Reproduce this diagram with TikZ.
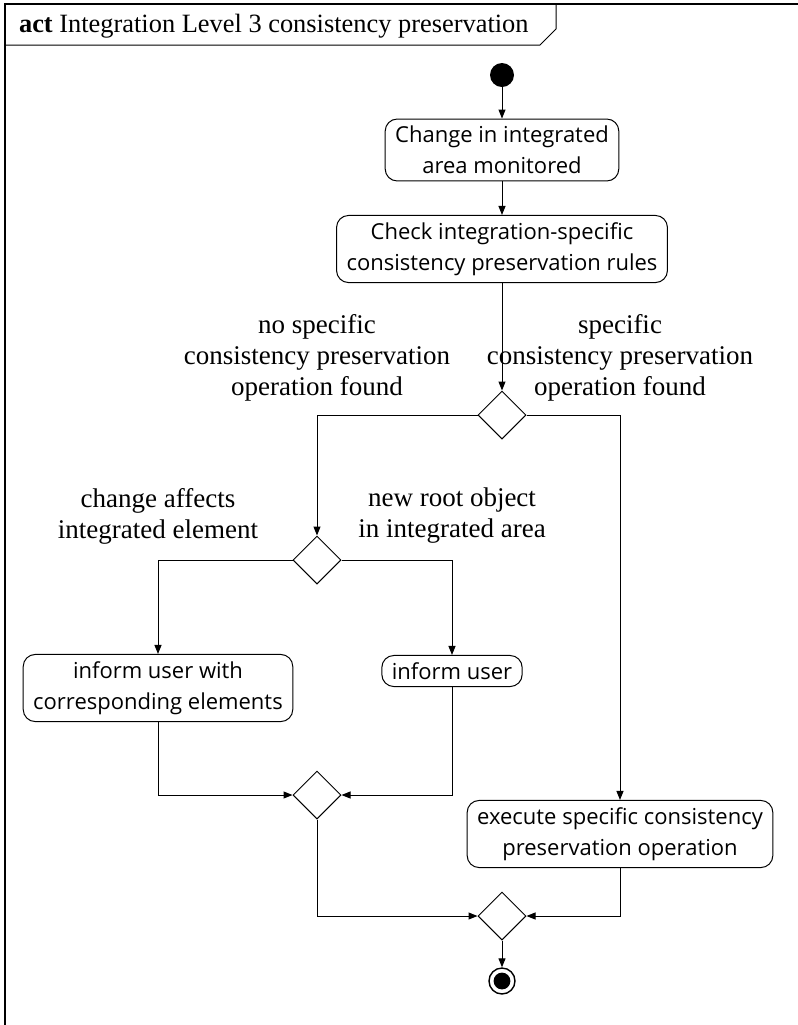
\documentclass[tikz,border=0pt]{standalone}
\usepackage{fontspec}
\setmainfont{Liberation Serif}
\newfontfamily\actionfont{Open Sans}
\usetikzlibrary{arrows.meta}
\usetikzlibrary{shapes.geometric}

\begin{document}
\begin{tikzpicture}[
		x=0.5pt, y=-0.5pt,
		flow/.style={-{Triangle[length=4.5pt, width=3.5pt]}, line width=0.5pt},
		action/.style={draw, line width=0.5pt, rounded corners=6pt, align=center, inner xsep=5pt, inner ysep=3.5pt,
			font=\actionfont\fontsize{11}{15.5}\selectfont},
		decision/.style={draw, line width=0.5pt, diamond, aspect=1, minimum size=24pt, inner sep=0pt},
		guard/.style={align=center, font=\fontsize{13.5}{15.5}\selectfont},
		startdot/.style={circle, fill, minimum size=12pt, inner sep=0pt},
		enddot/.style={circle, draw, line width=0.7pt, minimum size=13pt, inner sep=0pt,
			path picture={\fill (path picture bounding box.center) circle (4.2pt);}},
	]
		\useasboundingbox (0,0) rectangle (798,1025);

		% frame with its name tab
		\draw[line width=0.8pt] (5,1025) -- (5,4) -- (798,4);
		\draw[line width=0.5pt] (5,45) -- (540,45) -- (556,29) -- (556,4);
		\node[anchor=base west, font=\fontsize{13.2}{15.5}\selectfont] (title) at (12,32) {\textbf{act} Integration Level 3 consistency preservation};

		\node[startdot] (start) at (502,75) {};
		\node[action] (monitor) at (502,150) {Change in integrated\\area monitored};
		\node[action] (rules) at (502,249) {Check integration-specific\\consistency preservation rules};
		\node[decision] (found) at (502,415) {};
		\node[decision] (affects) at (317,560) {};
		\node[action] (informall) at (158,688) {inform user with\\corresponding elements};
		\node[action] (inform) at (452,671) {inform user};
		\node[decision] (merge1) at (317,795) {};
		\node[action] (execute) at (620,834) {execute specific consistency\\preservation operation};
		\node[decision] (merge2) at (502,916) {};
		\node[enddot] (end) at (502,981) {};

		% guards
		\node[guard] (nospecific) at (317,358) {no specific\\consistency preservation\\operation found};
		\node[guard] (specific) at (620,358) {specific\\consistency preservation\\operation found};
		\node[guard] (element) at (158,516) {change affects\\integrated element};
		\node[guard] (rootobject) at (452,516) {new root object\\in integrated area};

		\draw[flow] (start) -- (monitor);
		\draw[flow] (monitor) -- (rules);
		\draw[flow] (rules) -- (found);
		\draw[flow] (found.west) -| (affects.north);
		\draw[flow] (found.east) -| (execute.north);
		\draw[flow] (affects.west) -| (informall.north);
		\draw[flow] (affects.east) -| (inform.north);
		\draw[flow] (informall.south) |- (merge1.west);
		\draw[flow] (inform.south) |- (merge1.east);
		\draw[flow] (merge1.south) |- (merge2.west);
		\draw[flow] (execute.south) |- (merge2.east);
		\draw[flow] (merge2) -- (end);
	\end{tikzpicture}
\end{document}
